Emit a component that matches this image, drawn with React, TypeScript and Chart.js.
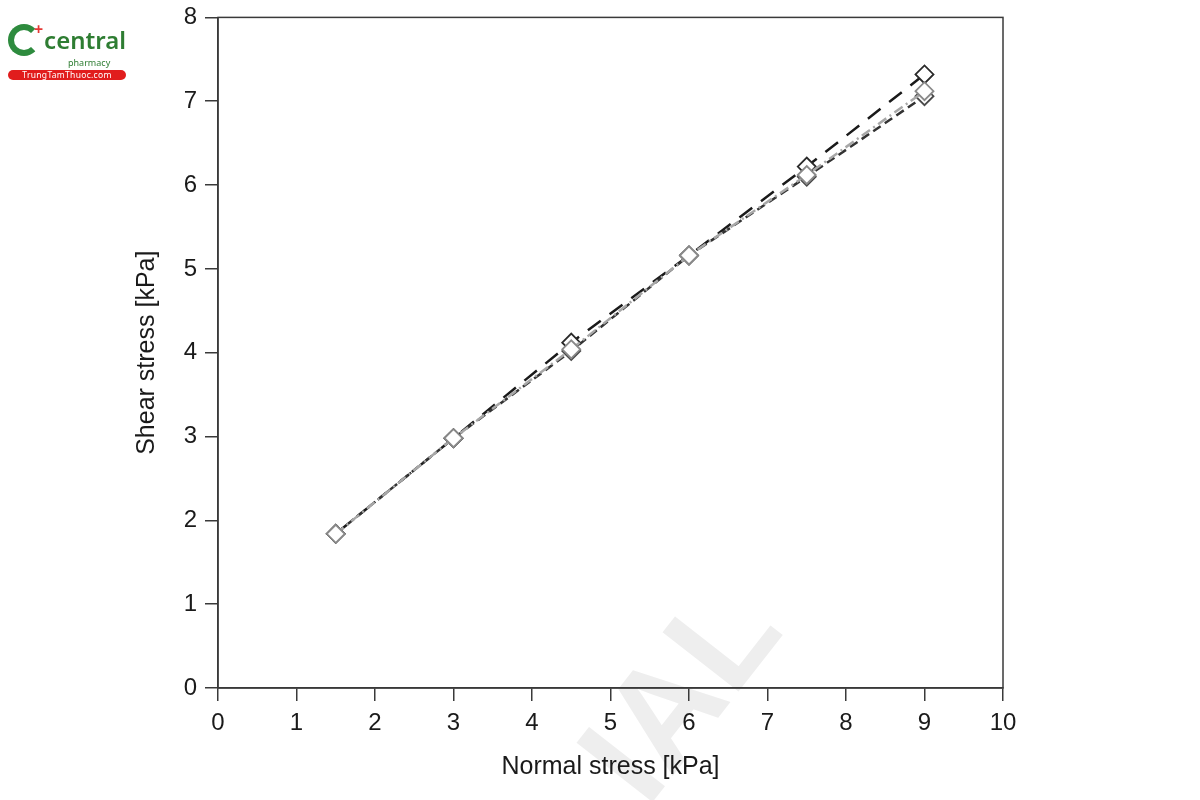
import { useEffect, useRef } from 'react';
import Chart from 'chart.js/auto';

const normalStress = [1.5, 3, 4.5, 6, 7.5, 9];
const shearA = [1.84, 2.98, 4.12, 5.16, 6.22, 7.32];
const shearB = [1.84, 2.98, 4.02, 5.16, 6.1, 7.06];
const shearC = [1.84, 2.98, 4.04, 5.16, 6.12, 7.12];
const xTicks = [0, 1, 2, 3, 4, 5, 6, 7, 8, 9, 10];
const yTicks = [0, 1, 2, 3, 4, 5, 6, 7, 8];

const toPoints = (ys: number[]) => normalStress.map((x, i) => ({ x, y: ys[i] }));

const SHIFT = 5; // canvas is moved up by this much
const PAD = { left: 128, right: 197, top: 0, bottom: 14 };

// box around the plot area
const frame = {
  id: 'frame',
  afterDraw(chart: any) {
    const { ctx, chartArea: a } = chart;
    ctx.save();
    ctx.strokeStyle = '#3a3a3a';
    ctx.lineWidth = 1.5;
    ctx.strokeRect(a.left, a.top, a.right - a.left, a.bottom - a.top);
    ctx.restore();
  },
};

const ChartComponent = () => {
  const chartContainer = useRef(null);

  useEffect(() => {
    if (chartContainer && chartContainer.current) {
      const marker = {
        pointStyle: 'rectRot',
        pointRadius: 9,
        pointBackgroundColor: '#ffffff',
        pointBorderWidth: 1.8,
        showLine: true,
        fill: false,
      };
      const myChart = new Chart(chartContainer.current, {
        type: 'scatter',
        data: {
          datasets: [
            {
              ...marker,
              label: 'C',
              data: toPoints(shearC),
              borderColor: '#a8a8a8',
              pointBorderColor: '#8a8a8a',
              borderWidth: 2.5,
              borderDash: [10, 4, 2, 4],
            },
            {
              ...marker,
              label: 'B',
              data: toPoints(shearB),
              borderColor: '#333333',
              pointBorderColor: '#4a4a4a',
              borderWidth: 2.5,
              borderDash: [9, 5],
            },
            {
              ...marker,
              label: 'A',
              data: toPoints(shearA),
              borderColor: '#1a1a1a',
              pointBorderColor: '#2a2a2a',
              borderWidth: 2.5,
              borderDash: [16, 11],
            },
          ],
        },
        options: {
          animation: false,
          responsive: true,
          maintainAspectRatio: false,
          layout: { padding: PAD },
          plugins: { legend: { display: false }, tooltip: { enabled: false } },
          scales: {
            x: {
              type: 'linear',
              min: 0,
              max: 10,
              afterBuildTicks: (s: any) => { s.ticks = xTicks.map((v) => ({ value: v })); },
              afterFit: (s: any) => { s.height = 800 - 688 - PAD.bottom; },
              grid: { drawOnChartArea: false, drawTicks: true, tickLength: 13, color: '#3a3a3a', lineWidth: 1.5 },
              border: { display: true, color: '#3a3a3a', width: 1.5 },
              ticks: { color: '#1a1a1a', padding: 8, font: { family: 'Liberation Sans', size: 24 } },
              title: {
                display: true,
                text: 'Normal stress [kPa]',
                color: '#1a1a1a',
                padding: { top: 10 },
                font: { family: 'Liberation Sans', size: 25 },
              },
            },
            y: {
              type: 'linear',
              min: 0,
              max: 8,
              afterBuildTicks: (s: any) => { s.ticks = yTicks.map((v) => ({ value: v })); },
              afterFit: (s: any) => { s.width = 218 - PAD.left; },
              grid: { drawOnChartArea: false, drawTicks: true, tickLength: 13, color: '#3a3a3a', lineWidth: 1.5 },
              border: { display: true, color: '#3a3a3a', width: 1.5 },
              ticks: { color: '#1a1a1a', padding: 8, font: { family: 'Liberation Sans', size: 24 } },
              title: {
                display: true,
                text: 'Shear stress [kPa]',
                color: '#1a1a1a',
                padding: { bottom: 0 },
                font: { family: 'Liberation Sans', size: 25 },
              },
            },
          },
        },
        plugins: [frame],
      } as any);
      return () => myChart.destroy();
    }
  }, []);

  return <canvas ref={chartContainer} />;
};

const Logo = () => (
  <div style={{ position: 'absolute', left: 8, top: 22, width: 118, fontFamily: 'Noto Sans, sans-serif' }}>
    <div style={{ display: 'flex', alignItems: 'center' }}>
      <div style={{ position: 'relative', width: 36, height: 36, marginRight: 6 }}>
        <div
          style={{
            position: 'absolute',
            left: 0,
            top: 2,
            width: 32,
            height: 32,
            borderRadius: '50%',
            border: '6px solid #2e8b3e',
            borderRightColor: 'transparent',
            boxSizing: 'border-box',
          }}
        />
        <div style={{ position: 'absolute', left: 26, top: -4, color: '#e53935', fontSize: 16, fontWeight: 700 }}>+</div>
      </div>
      <div style={{ color: '#2e7d32', fontSize: 24, fontWeight: 600, lineHeight: '24px' }}>central</div>
    </div>
    <div style={{ color: '#2e7d32', fontSize: 9, marginLeft: 60, lineHeight: '10px' }}>pharmacy</div>
    <div
      style={{
        background: '#e11d1d',
        color: '#fff',
        fontSize: 8.5,
        borderRadius: 5,
        textAlign: 'center',
        lineHeight: '10px',
        marginTop: 2,
        letterSpacing: 0.3,
      }}
    >
      TrungTamThuoc.com
    </div>
  </div>
);

const App = () => (
  <div style={{ position: 'absolute', left: 0, top: 0, width: 1200, height: 800, overflow: 'hidden', background: '#fff' }}>
    <div
      style={{
        position: 'absolute',
        left: 545,
        top: 730,
        fontFamily: 'Liberation Sans, sans-serif',
        fontWeight: 700,
        fontSize: 140,
        color: '#eeeeee',
        transform: 'rotate(-52deg)',
        transformOrigin: 'left top',
        whiteSpace: 'nowrap',
      }}
    >
      IAL
    </div>
    <div style={{ position: 'absolute', left: 0, top: -SHIFT, width: 1200, height: 800 + SHIFT }}>
      <ChartComponent />
    </div>
    <Logo />
  </div>
);

export default App;
